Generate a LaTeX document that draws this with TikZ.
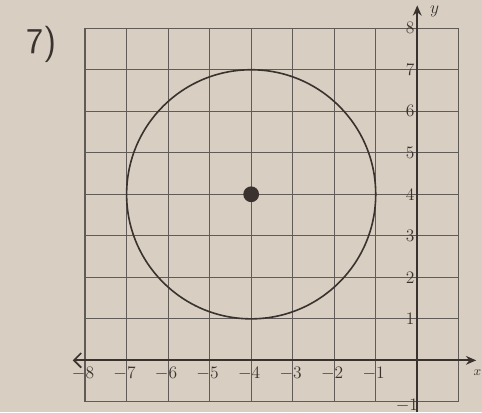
\documentclass[tikz,border=0pt]{standalone}
\usepackage{tikz}
\usetikzlibrary{arrows.meta,positioning}
\definecolor{paper}{RGB}{216,207,194}
\definecolor{ink}{RGB}{58,50,46}

\begin{document}
\begin{tikzpicture}[
  grd/.style={ink!80, line width=0.85pt},
  axl/.style={ink, line width=1.2pt},
  arr/.style={-{Stealth[length=7pt,width=6pt]}},
  lbl/.style={font=\large, text=ink, inner sep=1pt},
  crc/.style={ink, line width=1.1pt}
]
\fill[paper] (-10.05,-1.25) rectangle (1.56,8.68);
\useasboundingbox (-10.05,-1.25) rectangle (1.56,8.68);

% grid
\foreach \k in {-8,...,1} \draw[grd] (\k,-1) -- (\k,8);
\foreach \k in {-1,...,8} \draw[grd] (-8,\k) -- (1,\k);

% axes
\coordinate (xl) at (-8.3,0);
\coordinate (xr) at (1.42,0);
\coordinate (yb) at (0,-1.25);
\coordinate (yt) at (0,8.55);
\draw[axl, {Straight Barb[length=5pt]}-{Stealth[length=7pt,width=6pt]}] (xl) -- (xr);
\draw[axl, arr] (yb) -- (yt);
\node[lbl] (ylab) at (0.42,8.4) {$y$};
\node[lbl, font=\small] (xlab) at (1.45,-0.3) {$x$};

% tick labels
\foreach \k in {1,...,8} \node[lbl] (t\k) at (-0.17,\k) {\k};
\foreach \k in {1,...,8} \node[lbl] (s\k) at (-\k-0.05,-0.32) {$-\k$};
\node[lbl] (tm) at (-0.25,-1.1) {$-1$};

% circle
\node[circle, fill=ink, minimum size=0.38cm, inner sep=0pt] (ctr) at (-4,4) {};
\draw[crc] (ctr.center) circle (3);

% problem number
\node[font=\Huge\sffamily, text=ink] (num) at (-9.05,7.6) {7)};
\end{tikzpicture}
\end{document}
